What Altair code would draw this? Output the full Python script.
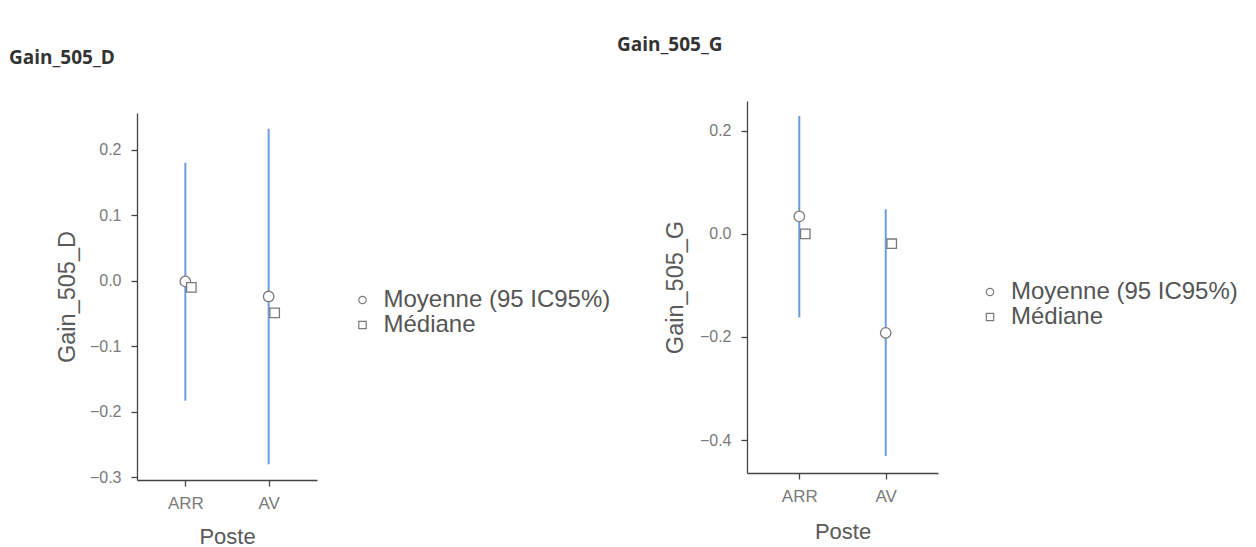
import altair as alt
import pandas as pd

# ---- data ----
postes = ["ARR", "AV"]
stats = ["Moyenne (95 IC95%)", "Médiane"]

d_mean = [-0.001, -0.024]
d_median = [-0.010, -0.049]
d_low = [-0.183, -0.280]
d_high = [0.180, 0.232]

g_mean = [0.034, -0.192]
g_median = [0.000, -0.019]
g_low = [-0.162, -0.431]
g_high = [0.229, 0.048]

d_ticks = [-0.3, -0.2, -0.1, 0.0, 0.1, 0.2]
g_ticks = [-0.4, -0.2, 0.0, 0.2]

FONT = "Liberation Sans"
BAR = "#6c9cda"
PT = "#7a7a7a"


def spacer(h):
    return alt.Chart(pd.DataFrame({"a": [0]})).mark_point(
        size=0, opacity=0).encode(x=alt.value(0), y=alt.value(0)).properties(
        width=1, height=h)


def panel(name, mean, median, low, high, domain, ticks, width, height,
          title_dx, title_offset, ytitle_pad, xtitle_pad,
          pad, legend_x, legend_y):
    bars = pd.DataFrame({"Poste": postes, "low": low, "high": high})
    pts = pd.DataFrame({
        "Poste": postes + postes,
        "val": mean + median,
        "stat": [stats[0]] * 2 + [stats[1]] * 2,
    })
    x = alt.X("Poste:N",
              scale=alt.Scale(type="point", padding=pad, domain=postes),
              axis=alt.Axis(title="Poste", labelAngle=0, labelPadding=9,
                            titlePadding=xtitle_pad, titleFontSize=22,
                            labelFontSize=17))
    yscale = alt.Scale(domain=domain, nice=False, zero=False)

    def yenc(field):
        return alt.Y(field, scale=yscale,
                     axis=alt.Axis(title=name, values=ticks, format=".1f",
                                   titlePadding=ytitle_pad, labelPadding=10,
                                   titleFontSize=23.5, labelFontSize=16))

    shape = alt.Shape(
        "stat:N",
        scale=alt.Scale(domain=stats, range=["circle", "square"]),
        legend=alt.Legend(
            title=None, orient="none", legendX=legend_x, legendY=legend_y,
            padding=0, symbolSize=55, labelFont=FONT, labelFontSize=24,
            labelColor="#555555", labelOffset=9, rowPadding=1,
            labelLimit=500, symbolStrokeColor=PT, symbolStrokeWidth=1.2,
            symbolOpacity=1,
        ),
    )

    rule = alt.Chart(bars).mark_rule(color=BAR, strokeWidth=2).encode(
        x=x, y=yenc("low:Q"), y2="high:Q")
    mean_df = alt.Chart(pts).transform_filter(alt.datum.stat == stats[0])
    med_df = alt.Chart(pts).transform_filter(alt.datum.stat == stats[1])
    means_bg = mean_df.mark_point(shape="circle", filled=True, color="white",
                                  size=110, opacity=1).encode(
        x=x, y=yenc("val:Q"))
    means = mean_df.mark_point(filled=False, color=PT, strokeWidth=1.3,
                               size=110, opacity=1).encode(
        x=x, y=yenc("val:Q"), shape=shape)
    meds_bg = med_df.mark_point(shape="square", filled=True, color="white",
                                size=90, opacity=1, xOffset=6).encode(
        x=x, y=yenc("val:Q"))
    meds = med_df.mark_point(filled=False, color=PT, strokeWidth=1.3,
                             size=90, opacity=1, xOffset=6).encode(
        x=x, y=yenc("val:Q"), shape=shape)

    return alt.layer(rule, means_bg, means, meds_bg, meds).properties(
        width=width, height=height,
        title=alt.TitleParams(text=name, anchor="start", frame="group",
                              dx=title_dx, offset=title_offset,
                              font="Open Sans", fontSize=19,
                              fontWeight="bold", color="#333333"),
    )


left = panel("Gain_505_D", d_mean, d_median, d_low, d_high,
             [-0.304, 0.256], d_ticks, 180, 367,
             -128, 45, 10, 15, 0.58, 213.5, 253)
right = panel("Gain_505_G", g_mean, g_median, g_low, g_high,
              [-0.464, 0.258], g_ticks, 191, 372,
              -130, 46, 12, 17, 0.605, 231, 245)

col_left = alt.vconcat(spacer(14), left, spacing=0)
col_right = alt.vconcat(spacer(1), right, spacing=0)

chart = alt.hconcat(col_left, col_right, spacing=6).resolve_scale(
    shape="independent", x="independent", y="independent"
).resolve_legend(shape="independent").properties(
    padding={"left": 1, "top": 27, "right": 0, "bottom": 0}
).configure_view(stroke=None).configure_axis(
    grid=False, domainColor="#444444", tickColor="#444444", tickSize=6,
    domainWidth=1.3, tickWidth=1.3,
    labelColor="#7a7a7a", labelFont=FONT,
    titleFont=FONT, titleColor="#5a5a5a", titleFontWeight="normal",
)

chart.save("out.html", embed_options={"renderer": "svg", "actions": False})
